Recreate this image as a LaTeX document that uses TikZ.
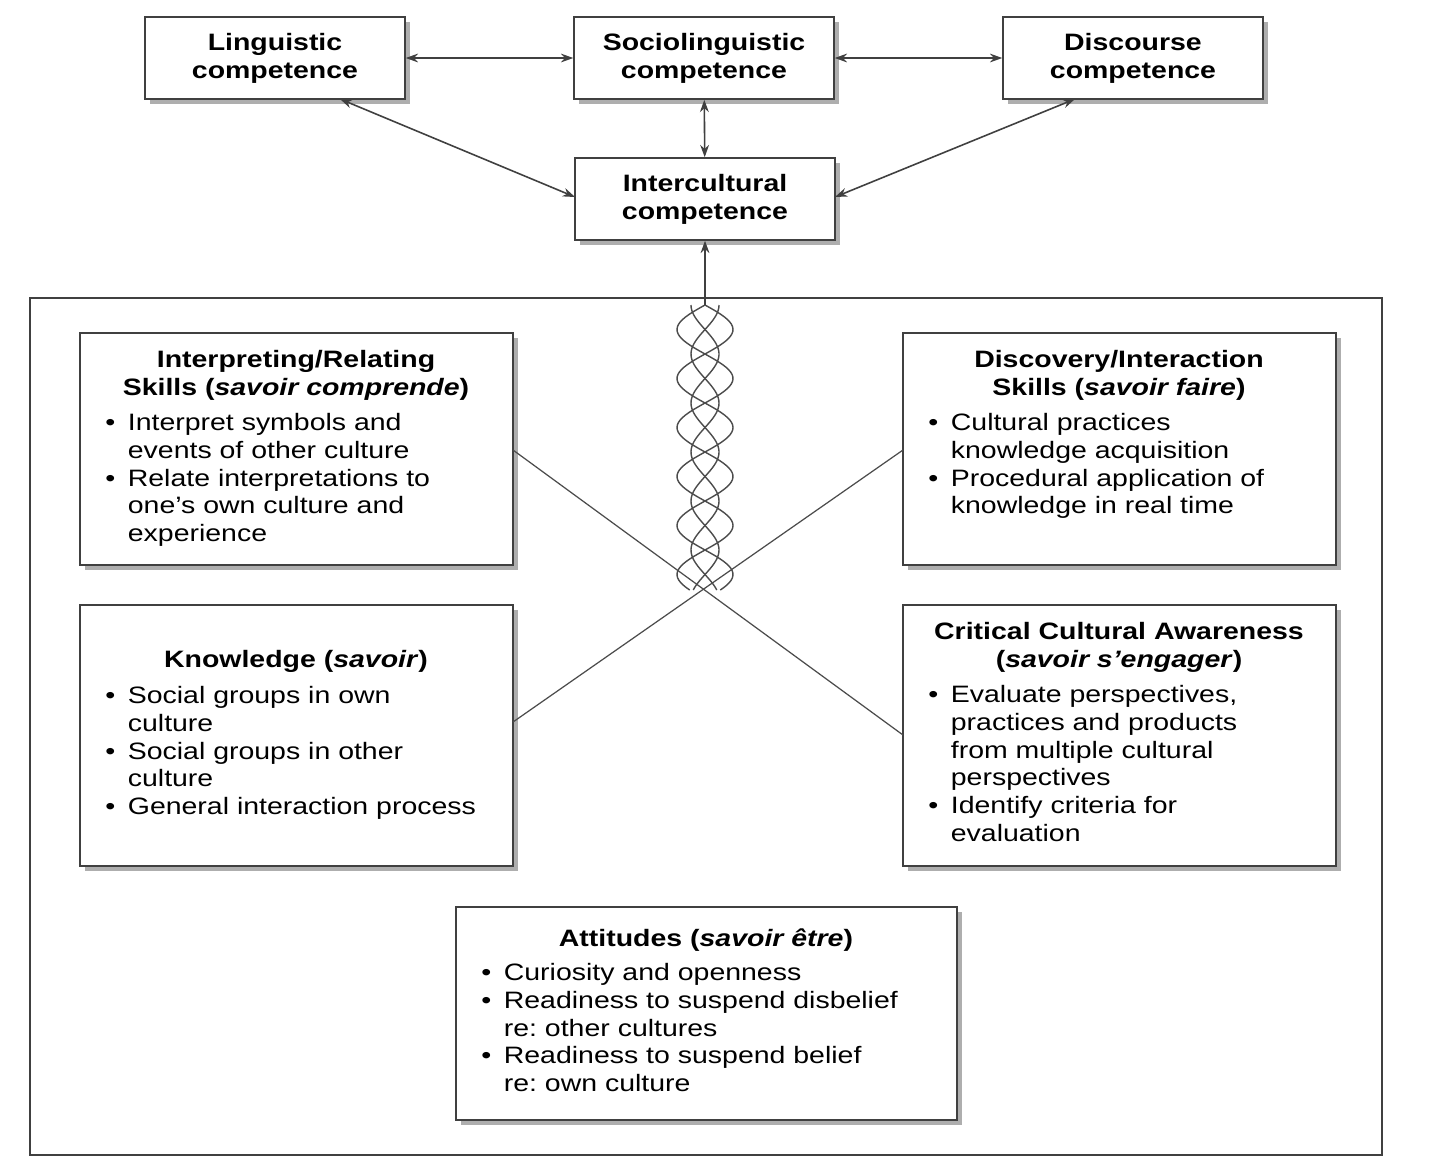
\documentclass[tikz,border=0pt]{standalone}
\usepackage{fontspec}
\setmainfont{Liberation Sans}[FakeStretch=1.2]
\usetikzlibrary{shadows,arrows.meta}
\newcommand\bl[1]{\makebox[0.95em][l]{\textbullet}#1}
\newcommand\ct[1]{\hspace*{0.95em}#1}
\frenchspacing
\begin{document}
\begin{tikzpicture}[x=0.02cm,y=-0.02cm,
 box/.style={draw=black!75,line width=0.9pt,fill=white,drop shadow={shadow xshift=3pt,shadow yshift=-3pt,fill=black!45,opacity=0.7}},
 ttl/.style={font=\fontsize{13.5}{15.8}\selectfont\bfseries,align=center,anchor=north,inner sep=0},
 txt/.style={font=\fontsize{13.5}{15.8}\selectfont,align=left,anchor=north west,inner sep=0},
 arr/.style={draw=black!75,line width=0.9pt,{Stealth[length=7pt,width=5pt]}-{Stealth[length=7pt,width=5pt]}},
 ln/.style={draw=black!70,line width=0.7pt}]
\useasboundingbox (0,0) rectangle (1437,1171);
\fill[white] (0,0) rectangle (1437,1171);
% top boxes
\node[box,minimum width=5.2cm,minimum height=1.64cm,font=\fontsize{13.5}{15.8}\selectfont\bfseries,align=center] (ling) at (275,58) {Linguistic\\competence};
\node[box,minimum width=5.2cm,minimum height=1.64cm,font=\fontsize{13.5}{15.8}\selectfont\bfseries,align=center] (soc) at (704,58) {Sociolinguistic\\competence};
\node[box,minimum width=5.2cm,minimum height=1.64cm,font=\fontsize{13.5}{15.8}\selectfont\bfseries,align=center] (disc) at (1133,58) {Discourse\\competence};
\node[box,minimum width=5.2cm,minimum height=1.64cm,font=\fontsize{13.5}{15.8}\selectfont\bfseries,align=center] (inter) at (705,199) {Intercultural\\competence};
\draw[arr] (ling) -- (soc);
\draw[arr] (soc) -- (disc);
\draw[arr] (soc) -- (inter);
\draw[arr] (340,99) -- (575,197);
\draw[arr] (1075,99) -- (835,197);
% frame
\draw[draw=black!75,line width=0.9pt] (30,298) rectangle (1382,1155);
\coordinate (ftop) at (705,298);
\draw[draw=black!75,line width=0.9pt,-{Stealth[length=7pt,width=5pt]}] (ftop) -- (inter.south);
% helix
\foreach \s in {1,-1}{
 \draw[black!70,line width=0.8pt,smooth,samples=120,variable=\t,domain=0:285] plot ({705+\s*28*sin(3.6735*\t)},{305+\t});
 \draw[black!70,line width=0.8pt,smooth,samples=120,variable=\t,domain=0:285] plot ({705+\s*14*sin(3.6735*\t+90)},{305+\t});
}
\draw[black!75,line width=0.9pt] (705,298) -- (705,305);
% boxes
\node[box,minimum width=8.66cm,minimum height=4.64cm] (ir) at (296.5,449) {};
\node[box,minimum width=8.66cm,minimum height=4.64cm] (di) at (1119.5,449) {};
\node[box,minimum width=8.66cm,minimum height=5.22cm] (kn) at (296.5,735.5) {};
\node[box,minimum width=8.66cm,minimum height=5.22cm] (cc) at (1119.5,735.5) {};
\node[box,minimum width=10.02cm,minimum height=4.26cm] (at) at (706.5,1013.5) {};
% crossing lines
\coordinate (c1) at (513,450); \coordinate (c2) at (903,735);
\coordinate (c3) at (513,722); \coordinate (c4) at (903,450);
\draw[ln] (c1) -- (c2);
\draw[ln] (c3) -- (c4);
% texts
\node[ttl] (irt) at (296,350) {Interpreting/Relating\\Skills (\textit{savoir comprende})};
\node[txt] (irb) at (105,413) {\bl{Interpret symbols and}\\\ct{events of other culture}\\\bl{Relate interpretations to}\\\ct{one’s own culture and}\\\ct{experience}};
\node[ttl] (dit) at (1119,350) {Discovery/Interaction\\Skills (\textit{savoir faire})};
\node[txt] (dib) at (928,413) {\bl{Cultural practices}\\\ct{knowledge acquisition}\\\bl{Procedural application of}\\\ct{knowledge in real time}};
\node[ttl] (knt) at (296,650) {Knowledge (\textit{savoir})};
\node[txt] (knb) at (105,686) {\bl{Social groups in own}\\\ct{culture}\\\bl{Social groups in other}\\\ct{culture}\\\bl{General interaction process}};
\node[ttl] (cct) at (1119,622) {Critical Cultural Awareness\\(\textit{savoir s’engager})};
\node[txt] (ccb) at (928,685) {\bl{Evaluate perspectives,}\\\ct{practices and products}\\\ct{from multiple cultural}\\\ct{perspectives}\\\bl{Identify criteria for}\\\ct{evaluation}};
\node[ttl] (att) at (706,928) {Attitudes (\textit{savoir être})};
\node[txt] (atb) at (481,963) {\bl{Curiosity and openness}\\\bl{Readiness to suspend disbelief}\\\ct{re: other cultures}\\\bl{Readiness to suspend belief}\\\ct{re: own culture}};
\end{tikzpicture}
\end{document}
